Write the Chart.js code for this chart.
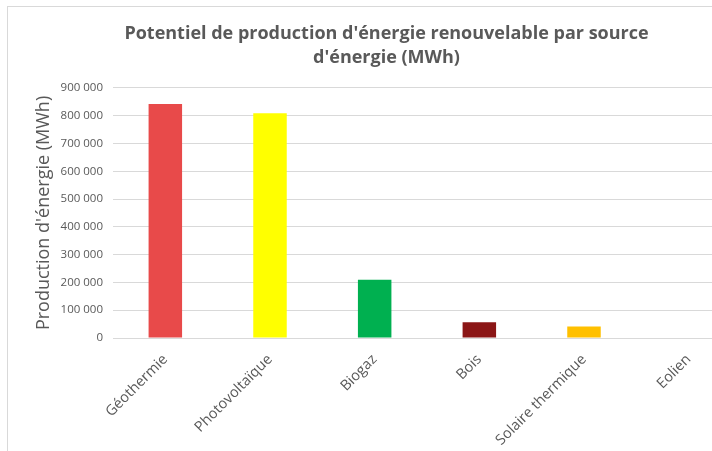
<!DOCTYPE html>
<html>
<head>
<meta charset="utf-8">
<script src="https://cdn.jsdelivr.net/npm/chart.js@4.4.1/dist/chart.umd.min.js"></script>
<style>
  html, body { margin: 0; padding: 0; background: #ffffff; overflow: hidden; }
  #frame { position: absolute; left: 7px; top: 6px; width: 760px; height: 450px; border: 1px solid #d9d9d9; }
</style>
</head>
<body>
<div id="frame"><canvas id="chart" width="754" height="445"></canvas></div>
<script>
// categories and values (MWh)
var sources = ['Géothermie', 'Photovoltaïque', 'Biogaz', 'Bois', 'Solaire thermique', 'Eolien'];
var potentiel = [842000, 809000, 210000, 57000, 41000, 0];
var barColors = ['#e84a4a', '#ffff00', '#00b050', '#8b1616', '#ffc000', '#5b9bd5'];
var titleLines = ["Potentiel de production d'énergie renouvelable par source", "d'énergie (MWh)"];
var yTitle = "Production d'énergie (MWh)";

var textColor = '#595959';
var fontFamily = "'Open Sans', 'DejaVu Sans', sans-serif";

//thousands with a space, like the original
function formatNumber(v) {
  return String(v).replace(/\B(?=(\d{3})+(?!\d))/g, ' ');
}

var config = {
  type: 'bar',
  data: {
    labels: sources,
    datasets: [{
      label: 'Potentiel',
      data: potentiel,
      backgroundColor: barColors,
      barPercentage: 0.32,
      categoryPercentage: 1.0
    }]
  },
  options: {
    responsive: false,
    animation: false,
    layout: {
      padding: { left: 24, right: 21, top: 0, bottom: 0 }
    },
    plugins: {
      legend: { display: false },
      tooltip: { enabled: false },
      title: {
        display: true,
        text: titleLines,
        color: textColor,
        font: { family: fontFamily, size: 18, weight: 'bold', lineHeight: 1.33 },
        padding: { top: 15, bottom: 18 }
      }
    },
    scales: {
      x: {
        grid: { display: false },
        border: { display: false },
        ticks: {
          color: textColor,
          font: { family: fontFamily, size: 14.5 },
          maxRotation: 45,
          minRotation: 45,
          padding: 5
        },
        afterFit: function (scale) { scale.height = 114; }
      },
      y: {
        min: 0,
        max: 900000,
        border: { display: false },
        grid: { color: '#d9d9d9', lineWidth: 1, drawTicks: false },
        ticks: {
          stepSize: 100000,
          color: textColor,
          font: { family: fontFamily, size: 11.5 },
          padding: 10,
          callback: function (v) { return formatNumber(v); }
        },
        title: {
          display: true,
          text: yTitle,
          color: textColor,
          font: { family: fontFamily, size: 18 },
          padding: 1
        },
        afterFit: function (scale) { scale.width = 81; }
      }
    }
  }
};

var chart = new Chart(document.getElementById('chart'), config);
</script>
</body>
</html>
